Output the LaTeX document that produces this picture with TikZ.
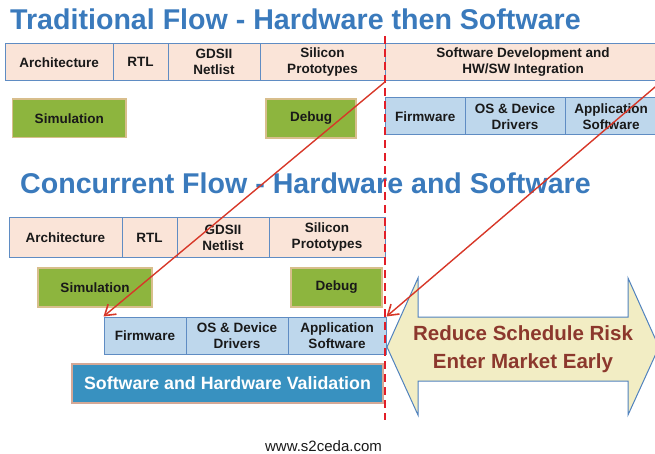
\documentclass[tikz,border=0pt]{standalone}
\usepackage{fontspec}
\setmainfont{Liberation Sans}
\usetikzlibrary{arrows.meta}

\definecolor{titleblue}{RGB}{58,122,188}
\definecolor{cellpink}{RGB}{250,228,216}
\definecolor{cellline}{RGB}{95,140,195}
\definecolor{cellblue}{RGB}{190,215,236}
\definecolor{boxgreen}{RGB}{141,181,62}
\definecolor{boxtan}{RGB}{216,190,140}
\definecolor{valblue}{RGB}{56,145,192}
\definecolor{valedge}{RGB}{212,168,150}
\definecolor{flowred}{RGB}{215,55,40}
\definecolor{cutred}{RGB}{226,30,40}
\definecolor{gainfill}{RGB}{242,237,196}
\definecolor{gainedge}{RGB}{80,130,190}
\definecolor{gaintext}{RGB}{140,56,45}

\tikzset{
  cell/.style={draw=cellline, line width=1pt, inner sep=0pt, align=center,
    font=\bfseries\fontsize{13.5}{16}\selectfont, text=black!90},
  hwcell/.style={cell, fill=cellpink},
  swcell/.style={cell, fill=cellblue},
  taskbox/.style={draw=boxtan, line width=1.2pt, fill=boxgreen, inner sep=0pt,
    font=\bfseries\fontsize{13.5}{16}\selectfont, text=black!90},
  heading/.style={anchor=base west, inner sep=0pt, text=titleblue,
    font=\bfseries\fontsize{28.6}{32}\selectfont},
  flowshift/.style={draw=flowred, line width=1.4pt,
    -{Straight Barb[length=10pt,width=13pt,line width=1.6pt]}},
  cutline/.style={draw=cutred, line width=2.2pt, dash pattern=on 8pt off 5pt}
}

\begin{document}
\begin{tikzpicture}[x=1pt, y=-1pt]
\useasboundingbox (0,0) rectangle (655,454);

% ---- traditional flow ----
\node[heading] (t1) at (10,30) {Traditional Flow - Hardware then Software};

\node[hwcell, minimum width=107.5pt, minimum height=37.5pt] (arch1) at (59.25,62.25) {Architecture};
\node[hwcell, minimum width=55pt, minimum height=37.5pt] (rtl1) at (140.5,62.25) {RTL};
\node[hwcell, minimum width=92pt, minimum height=37.5pt] (gds1) at (214,62.25) {GDSII\\Netlist};
\node[hwcell, minimum width=125pt, minimum height=37.5pt] (sil1) at (322.5,62.25) {Silicon\\Prototypes};
\node[hwcell, minimum width=276pt, minimum height=37.5pt] (swd1) at (523,62.25) {Software Development and\\HW/SW Integration};

\node[taskbox, minimum width=113.5pt, minimum height=38.5pt] (sim1) at (69.25,118.25) {Simulation};
\node[taskbox, minimum width=90pt, minimum height=39pt] (dbg1) at (311,118.5) {Debug};

\node[swcell, minimum width=79.5pt, minimum height=37pt] (fw1) at (425.25,116.5) {Firmware};
\node[swcell, minimum width=100pt, minimum height=37pt] (os1) at (515,116.5) {OS \& Device\\Drivers};
\node[swcell, minimum width=92pt, minimum height=37pt] (app1) at (611,116.5) {Application\\Software};

% ---- concurrent flow ----
\node[heading] (t2) at (20,194) {Concurrent Flow - Hardware and Software};

\node[hwcell, minimum width=113pt, minimum height=39pt] (arch2) at (65.5,237.5) {Architecture};
\node[hwcell, minimum width=55pt, minimum height=39pt] (rtl2) at (149.5,237.5) {RTL};
\node[hwcell, minimum width=92pt, minimum height=39pt] (gds2) at (223,237.5) {GDSII\\Netlist};
\node[hwcell, minimum width=116pt, minimum height=39pt] (sil2) at (327,237.5) {Silicon\\Prototypes};

\node[taskbox, minimum width=114pt, minimum height=39pt] (sim2) at (95,287.5) {Simulation};
\node[taskbox, minimum width=91pt, minimum height=39pt] (dbg2) at (336.5,287.5) {Debug};

\node[swcell, minimum width=82pt, minimum height=37pt] (fw2) at (145,335.5) {Firmware};
\node[swcell, minimum width=102pt, minimum height=37pt] (os2) at (237,335.5) {OS \& Device\\Drivers};
\node[swcell, minimum width=98pt, minimum height=37pt] (app2) at (337,335.5) {Application\\Software};

\node[draw=valedge, line width=1.2pt, fill=valblue, inner sep=0pt, text=white,
  font=\bfseries\fontsize{17.8}{20}\selectfont,
  minimum width=311pt, minimum height=39pt] (val) at (227.5,383.5) {Software and Hardware Validation};

% ---- schedule gain double arrow ----
\draw[draw=gainedge, line width=1pt, fill=gainfill, line join=miter]
  (387,347) -- (418,278) -- (418,317) -- (628,317) -- (628,278) -- (659,347)
  -- (628,415) -- (628,381) -- (418,381) -- (418,415) -- cycle;
\node[align=center, text=gaintext, font=\bfseries\fontsize{20.5}{27.5}\selectfont]
  (gain) at (523,349) {Reduce Schedule Risk\\Enter Market Early};

% ---- hardware/software cut and shifts ----
\coordinate (cuttop) at (385,36);
\coordinate (cutbot) at (385,420);
\draw[cutline] (cuttop) -- (cutbot);

\draw[flowshift] (sil1.south east) -- (fw2.north west);
\draw[flowshift] (swd1.south east) -- (app2.north east);

\node[font=\fontsize{15}{18}\selectfont, text=black!90] (web) at (323.5,446) {www.s2ceda.com};
\end{tikzpicture}
\end{document}
